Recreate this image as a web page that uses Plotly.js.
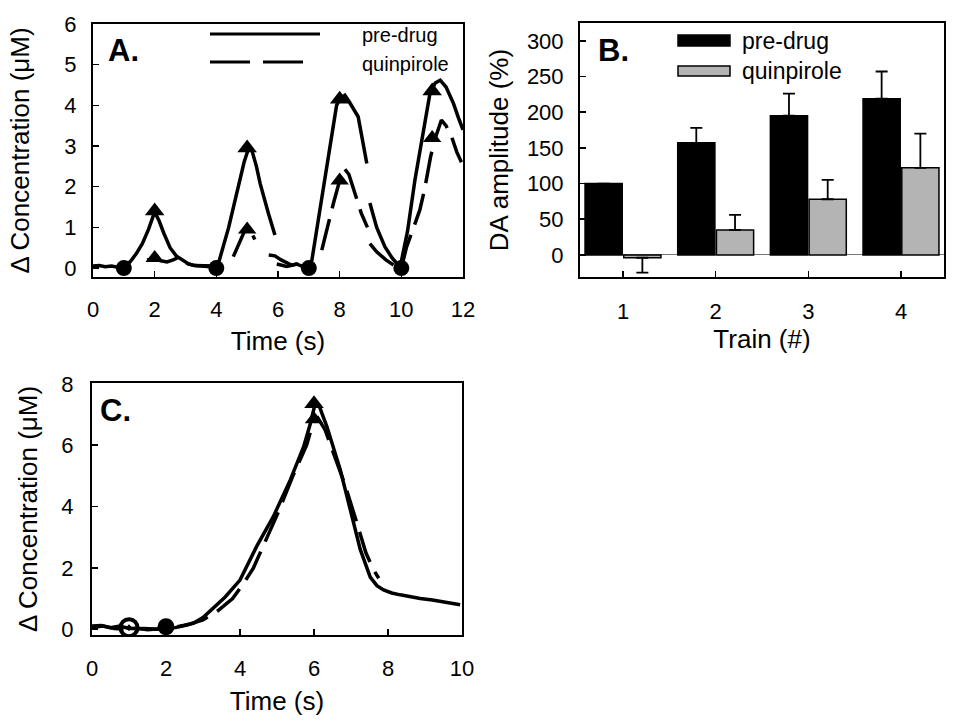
<!DOCTYPE html>
<html>
<head>
<meta charset="utf-8">
<script src="https://cdn.plot.ly/plotly-3.0.1.min.js"></script>
<style>html,body{margin:0;padding:0;background:#fff;}#chart{width:953px;height:722px;}</style>
</head>
<body>
<div id="chart"></div>
<script>
// ---------- Panel A data ----------
var predrugA_t = [0,0.2,0.4,0.6,0.8,1.0,1.2,1.4,1.6,1.8,2.0,2.15,2.3,2.5,2.7,2.9,3.1,3.3,3.5,3.7,3.9,4.0,4.1,4.4,4.7,4.9,5.05,5.15,5.3,5.42,5.69,5.9,null,5.96,6.1,6.28,6.45,6.6,6.8,7.0,7.1,7.47,7.9,8.0,8.17,8.3,8.6,8.88,null,8.98,9.2,9.47,9.7,9.96,10.2,10.44,10.7,10.93,11.1,11.26,11.45,11.69,11.85,11.96,12];
var predrugA_v = [0.05,0.06,0.03,0.05,0.02,0.03,0.15,0.35,0.6,0.95,1.38,1.15,0.85,0.5,0.3,0.2,0.1,0.06,0.05,0.04,0.05,0.02,0.2,1.0,2.0,2.6,2.95,2.9,2.5,2.08,1.34,0.81,null,0.1,0.08,0.04,0.07,0.1,0.04,0.02,0.2,2.0,4.0,4.15,4.25,4.1,3.72,2.57,null,1.6,1.0,0.52,0.25,0.02,0.9,2.16,3.3,4.3,4.55,4.62,4.45,4.05,3.7,3.47,3.4];
var quinA_t = [1.75,1.9,2.0,2.2,2.4,2.6,2.8,2.95,3.1,3.3,3.5,3.7,3.9,4.0,null,4.55,4.7,4.85,4.95,5.05,5.15,5.25,null,5.7,5.9,6.1,6.3,6.45,6.6,6.8,7.0,null,7.42,7.6,7.8,8.0,8.15,8.3,8.5,8.7,8.9,null,8.98,9.2,9.5,9.8,10.0,10.17,10.4,10.6,10.75,10.95,11.1,11.3,11.45,11.63,11.8,11.95];
var quinA_v = [0.2,0.2,0.22,0.18,0.15,0.2,0.27,0.15,0.1,0.06,0.05,0.05,0.04,0.02,null,0.28,0.55,0.8,0.97,1.0,0.85,0.7,null,0.32,0.3,0.2,0.12,0.07,0.1,0.06,0.02,null,0.44,1.0,1.6,2.15,2.45,2.3,1.85,1.35,1.0,null,0.6,0.4,0.2,0.05,0.0,0.52,1.0,1.43,1.92,2.74,3.19,3.64,3.5,3.23,2.85,2.6];
var circA_t = [1,4,7,10];
var circA_v = [0,0,0,0];
var triPreA_t = [2,5,8,11];
var triPreA_v = [1.4,2.95,4.15,4.35];
var triQuinA_t = [2,5,8,11];
var triQuinA_v = [0.25,0.95,2.15,3.2];

// ---------- Panel B data ----------
var trains = [1,2,3,4];
var predrugB = [100,157,195,219];
var predrugB_err = [0,21,31,38];
var quinB = [-4,35,78,122];
var quinB_errUp = [0,21,27,48];
var quinB_errDown = [21,0,0,0];

// ---------- Panel C data ----------
var predrugC_t = [0,0.25,0.5,0.75,1.0,1.25,1.5,1.75,2.0,2.25,2.5,2.75,3.0,3.28,3.6,4.0,4.45,4.9,5.36,5.72,5.9,6.03,6.15,6.35,6.71,6.98,7.25,7.52,7.7,7.88,8.1,8.33,8.6,8.87,9.2,9.5,9.75,9.95];
var predrugC_v = [0.1,0.12,0.05,0.1,0.02,0.03,-0.02,0.0,0.03,0.05,0.12,0.2,0.38,0.68,1.05,1.6,2.7,3.67,4.87,5.95,6.7,7.35,7.25,6.6,5.2,3.9,2.6,1.7,1.42,1.28,1.18,1.12,1.05,1.0,0.95,0.9,0.85,0.8];
var quinC_t = [0,0.3,0.6,1.0,1.4,1.8,2.2,2.6,3.0,3.4,3.8,4.1,4.36,4.63,5.04,5.44,5.8,6.0,6.1,6.3,6.6,6.84,7.15,7.4,7.6,7.75];
var quinC_v = [0.05,0.1,0.02,0.0,0.02,0.0,0.05,0.15,0.3,0.6,1.0,1.5,1.99,2.7,3.83,5.03,6.0,6.85,6.9,6.5,5.5,4.7,3.5,2.5,1.95,1.66];
var openCircC_t = [1];
var openCircC_v = [0.05];
var circC_t = [2];
var circC_v = [0.08];
var triPreC_t = [6];
var triPreC_v = [7.35];
var triQuinC_t = [6];
var triQuinC_v = [6.85];

var labels = {pre: 'pre-drug', quin: 'quinpirole'};

// ---------- helpers ----------
var W = 953, H = 722;
function px(x){ return x / W; }
function py(y){ return 1 - y / H; }
var FONT = 'Liberation Sans, Arial, sans-serif';
var dashQ = '32px,11px';
var LW = 3.5;

var traces = [
  // Panel A
  {x: predrugA_t, y: predrugA_v, xaxis:'x', yaxis:'y', mode:'lines', line:{color:'#000', width:LW}, connectgaps:false, name:labels.pre},
  {x: quinA_t, y: quinA_v, xaxis:'x', yaxis:'y', mode:'lines', line:{color:'#000', width:LW, dash:dashQ}, connectgaps:false, name:labels.quin},
  {x: circA_t, y: circA_v, xaxis:'x', yaxis:'y', mode:'markers', marker:{symbol:'circle', size:16, color:'#000'}},
  {x: triPreA_t, y: triPreA_v, xaxis:'x', yaxis:'y', mode:'markers', marker:{symbol:'triangle-up', size:17, color:'#000'}},
  {x: triQuinA_t, y: triQuinA_v, xaxis:'x', yaxis:'y', mode:'markers', marker:{symbol:'triangle-up', size:16, color:'#000'}},
  // Panel B
  {x: trains, y: predrugB, xaxis:'x2', yaxis:'y2', type:'bar', name:labels.pre,
   marker:{color:'#000', line:{color:'#000', width:1.5}},
   error_y:{type:'data', symmetric:false, array:predrugB_err, arrayminus:[0,0,0,0], color:'#000', thickness:1.8, width:6}},
  {x: trains, y: quinB, xaxis:'x2', yaxis:'y2', type:'bar', name:labels.quin,
   marker:{color:'#b4b4b4', line:{color:'#000', width:1.5}},
   error_y:{type:'data', symmetric:false, array:quinB_errUp, arrayminus:quinB_errDown, color:'#000', thickness:1.8, width:6}},
  // Panel C
  {x: predrugC_t, y: predrugC_v, xaxis:'x3', yaxis:'y3', mode:'lines', line:{color:'#000', width:LW}},
  {x: quinC_t, y: quinC_v, xaxis:'x3', yaxis:'y3', mode:'lines', line:{color:'#000', width:LW, dash:dashQ}},
  {x: openCircC_t, y: openCircC_v, xaxis:'x3', yaxis:'y3', mode:'markers', marker:{symbol:'circle-open-dot', size:17, color:'#000', line:{width:4, color:'#000'}}},
  {x: circC_t, y: circC_v, xaxis:'x3', yaxis:'y3', mode:'markers', marker:{symbol:'circle', size:17, color:'#000'}},
  {x: triPreC_t, y: triPreC_v, xaxis:'x3', yaxis:'y3', mode:'markers', marker:{symbol:'triangle-up', size:17, color:'#000'}},
  {x: triQuinC_t, y: triQuinC_v, xaxis:'x3', yaxis:'y3', mode:'markers', marker:{symbol:'triangle-up', size:16, color:'#000'}}
];

function axisBase(extra){
  var a = {showline:true, linecolor:'#000', linewidth:2, mirror:true, ticks:'inside', ticklen:6, tickwidth:1.5, tickcolor:'#000',
           showgrid:false, zeroline:false, tickfont:{family:FONT, size:22, color:'#000'}, fixedrange:true};
  for (var k in extra) a[k] = extra[k];
  return a;
}

var layout = {
  width: W, height: H,
  margin: {l:0, r:0, t:0, b:0},
  paper_bgcolor:'#fff', plot_bgcolor:'#fff',
  showlegend:false,
  font:{family:FONT, color:'#000'},
  barmode:'group', bargap:0.164, bargroupgap:0.04,
  xaxis: axisBase({domain:[px(93), px(463)], anchor:'y', range:[0,12], dtick:2, ticklabelstandoff:12,
    title:{text:'Time (s)', font:{family:FONT, size:26}, standoff:10}}),
  yaxis: axisBase({domain:[py(277), py(24)], anchor:'x', range:[-0.22,6], dtick:1, ticklabelstandoff:10,
    title:{text:'Δ Concentration (μM)', font:{family:FONT, size:26}, standoff:27}}),
  xaxis2: axisBase({domain:[px(580), px(944)], anchor:'y2', range:[0.536,4.464], tickvals:trains, ticktext:['1','2','3','4'], ticklabelstandoff:14,
    title:{text:'Train (#)', font:{family:FONT, size:26}, standoff:4}}),
  yaxis2: axisBase({domain:[py(277), py(23)], anchor:'x2', range:[-31,325], tickvals:[0,50,100,150,200,250,300], ticklabelstandoff:10,
    zeroline:true, zerolinecolor:'#777', zerolinewidth:1,
    title:{text:'DA amplitude (%)', font:{family:FONT, size:26}, standoff:11}}),
  xaxis3: axisBase({domain:[px(92), px(462)], anchor:'y3', range:[0,10], dtick:2, ticklabelstandoff:13,
    title:{text:'Time (s)', font:{family:FONT, size:26}, standoff:11}}),
  yaxis3: axisBase({domain:[py(635), py(383)], anchor:'x3', range:[-0.19,8.03], dtick:2, ticklabelstandoff:12,
    title:{text:'Δ Concentration (μM)', font:{family:FONT, size:26}, standoff:16}}),
  shapes: [
    // Panel A legend samples
    {type:'line', xref:'paper', yref:'paper', x0:px(210), x1:px(320), y0:py(34), y1:py(34), line:{color:'#000', width:3}},
    {type:'line', xref:'paper', yref:'paper', x0:px(210), x1:px(303), y0:py(62), y1:py(62), line:{color:'#000', width:3, dash:'40px,13px'}},
    // Panel B legend samples
    {type:'rect', xref:'paper', yref:'paper', x0:px(678), x1:px(730), y0:py(35), y1:py(46), fillcolor:'#000', line:{color:'#000', width:1.5}},
    {type:'rect', xref:'paper', yref:'paper', x0:px(678), x1:px(730), y0:py(66), y1:py(76), fillcolor:'#b4b4b4', line:{color:'#000', width:1.5}}
  ],
  annotations: [
    {xref:'paper', yref:'paper', x:px(360), y:py(35), xanchor:'left', yanchor:'middle', showarrow:false, text:labels.pre, font:{family:FONT, size:20, color:'#000'}},
    {xref:'paper', yref:'paper', x:px(360), y:py(64), xanchor:'left', yanchor:'middle', showarrow:false, text:labels.quin, font:{family:FONT, size:20, color:'#000'}},
    {xref:'paper', yref:'paper', x:px(740), y:py(41), xanchor:'left', yanchor:'middle', showarrow:false, text:labels.pre, font:{family:FONT, size:23, color:'#000'}},
    {xref:'paper', yref:'paper', x:px(740), y:py(71), xanchor:'left', yanchor:'middle', showarrow:false, text:labels.quin, font:{family:FONT, size:23, color:'#000'}},
    {xref:'paper', yref:'paper', x:px(106), y:py(51), xanchor:'left', yanchor:'middle', showarrow:false, text:'<b>A.</b>', font:{family:FONT, size:31, color:'#000'}},
    {xref:'paper', yref:'paper', x:px(596), y:py(51), xanchor:'left', yanchor:'middle', showarrow:false, text:'<b>B.</b>', font:{family:FONT, size:31, color:'#000'}},
    {xref:'paper', yref:'paper', x:px(98), y:py(410), xanchor:'left', yanchor:'middle', showarrow:false, text:'<b>C.</b>', font:{family:FONT, size:31, color:'#000'}}
  ]
};

Plotly.newPlot('chart', traces, layout, {staticPlot:true, displayModeBar:false});
</script>
</body>
</html>
